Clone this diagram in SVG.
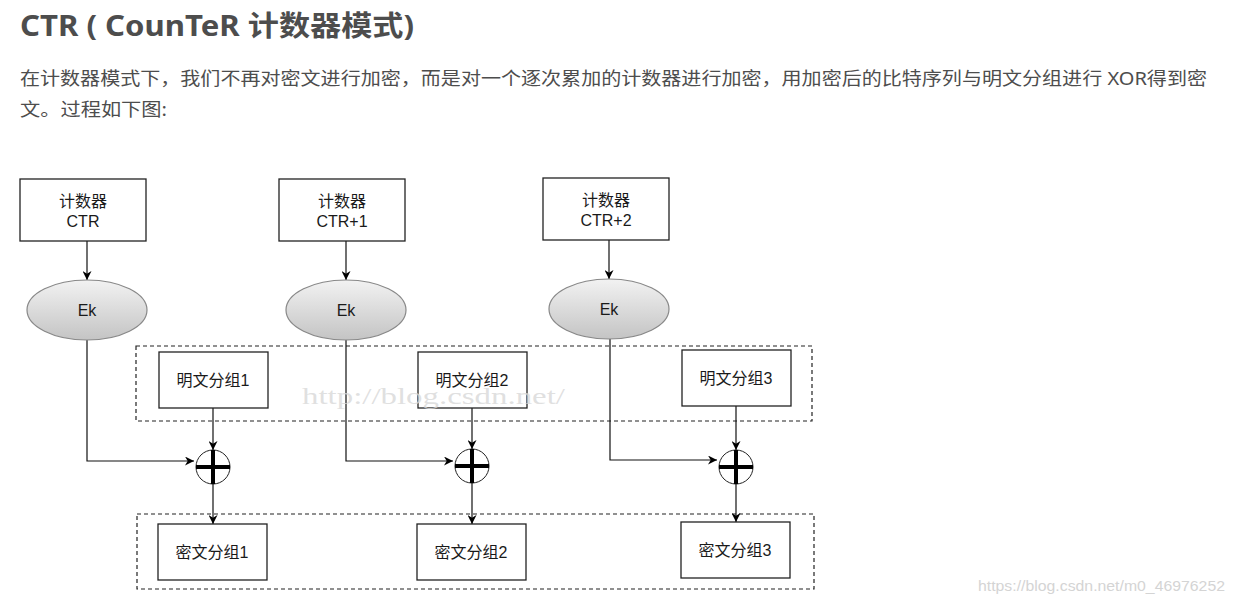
<svg xmlns="http://www.w3.org/2000/svg" width="1234" height="604" viewBox="0 0 1234 604">
<style>
.t{font-family:"Liberation Sans","Noto Sans CJK SC",sans-serif;font-size:16px;fill:#1a1a1a;text-anchor:middle}
.box{fill:#fff;stroke:#222;stroke-width:1.3}
.dash{fill:none;stroke:#222;stroke-width:1.2;stroke-dasharray:4 3}
.ell{fill:url(#g);stroke:#888;stroke-width:1.2}
.ln{fill:none;stroke:#111;stroke-width:1.2;marker-end:url(#ah)}
.xc{fill:#fff;stroke:#222;stroke-width:1}
.xp{stroke:#000;stroke-width:4}
.hd{font-family:"Noto Sans","Noto Sans CJK SC",sans-serif;fill:#4d4d4d}
</style>
<defs>
<linearGradient id="g" x1="0" y1="0" x2="0" y2="1"><stop offset="0" stop-color="#f2f2f2"/><stop offset="1" stop-color="#c4c4c4"/></linearGradient>
<marker id="ah" viewBox="0 0 10 10" refX="10" refY="5" markerWidth="9" markerHeight="9" markerUnits="userSpaceOnUse" orient="auto"><path d="M0,0 L10,5 L0,10 L3,5 z" fill="#000"/></marker>
</defs>
<rect width="1234" height="604" fill="#fff"/>
<text class="hd" x="20" y="36" font-size="28" font-weight="bold" textLength="394" lengthAdjust="spacingAndGlyphs">CTR ( CounTeR 计数器模式)</text>
<text class="hd" x="20" y="85" font-size="18" textLength="1187" lengthAdjust="spacingAndGlyphs">在计数器模式下，我们不再对密文进行加密，而是对一个逐次累加的计数器进行加密，用加密后的比特序列与明文分组进行 XOR得到密</text>
<text class="hd" x="20" y="116" font-size="18" textLength="147" lengthAdjust="spacingAndGlyphs">文。过程如下图:</text>
<g id="groups">
<rect class="dash" x="136" y="346" width="676" height="75"/>
<rect class="dash" x="137" y="514" width="677" height="75"/>
</g>
<g id="connectors">
<line class="ln" x1="87" y1="241" x2="87" y2="280"/>
<line class="ln" x1="346" y1="241" x2="346" y2="280"/>
<line class="ln" x1="609" y1="240" x2="609" y2="279"/>
<path class="ln" d="M87,340 V461 H194"/>
<path class="ln" d="M346,340 V461 H453"/>
<path class="ln" d="M610,339 V460 H717"/>
<line class="ln" x1="213" y1="408" x2="213" y2="450"/>
<line class="ln" x1="472" y1="408" x2="472" y2="449"/>
<line class="ln" x1="736" y1="406" x2="736" y2="450"/>
<line class="ln" x1="213" y1="484" x2="213" y2="524"/>
<line class="ln" x1="472" y1="483" x2="472" y2="524"/>
<line class="ln" x1="736" y1="484" x2="736" y2="522"/>
</g>
<g id="ctr0"><rect class="box" x="20" y="179" width="126" height="62"/><text class="t" x="83" y="207">计数器</text><text class="t" x="83" y="227">CTR</text></g>
<g id="ctr1"><rect class="box" x="279" y="179" width="126" height="62"/><text class="t" x="342" y="207">计数器</text><text class="t" x="342" y="227">CTR+1</text></g>
<g id="ctr2"><rect class="box" x="543" y="178" width="126" height="62"/><text class="t" x="606" y="206">计数器</text><text class="t" x="606" y="226">CTR+2</text></g>
<g id="ek0"><ellipse class="ell" cx="87" cy="310" rx="60" ry="30"/><text class="t" x="87" y="316">Ek</text></g>
<g id="ek1"><ellipse class="ell" cx="346" cy="310" rx="60" ry="30"/><text class="t" x="346" y="316">Ek</text></g>
<g id="ek2"><ellipse class="ell" cx="609" cy="309" rx="60" ry="30"/><text class="t" x="609" y="315">Ek</text></g>
<g id="p1"><rect class="box" x="159" y="352" width="109" height="56"/><text class="t" x="213" y="386">明文分组1</text></g>
<g id="p2"><rect class="box" x="418" y="352" width="109" height="56"/><text class="t" x="472" y="386">明文分组2</text></g>
<g id="p3"><rect class="box" x="682" y="350" width="109" height="56"/><text class="t" x="736" y="384">明文分组3</text></g>
<g id="x1"><circle class="xc" cx="213" cy="467" r="17"/><path class="xp" d="M196,467 H230 M213,450 V484"/></g>
<g id="x2"><circle class="xc" cx="472" cy="466" r="17"/><path class="xp" d="M455,466 H489 M472,449 V483"/></g>
<g id="x3"><circle class="xc" cx="736" cy="467" r="17"/><path class="xp" d="M719,467 H753 M736,450 V484"/></g>
<g id="c1"><rect class="box" x="158" y="524" width="109" height="56"/><text class="t" x="212" y="558">密文分组1</text></g>
<g id="c2"><rect class="box" x="417" y="524" width="109" height="56"/><text class="t" x="471" y="558">密文分组2</text></g>
<g id="c3"><rect class="box" x="681" y="522" width="109" height="56"/><text class="t" x="735" y="556">密文分组3</text></g>
<text x="302" y="404" font-family="Liberation Serif,serif" font-size="23" fill="#d8d8d8" fill-opacity="0.8" textLength="263" lengthAdjust="spacingAndGlyphs">http://blog.csdn.net/</text>
<text x="978" y="591" font-family="Liberation Sans,sans-serif" font-size="15" fill="#d4d4d4" textLength="247" lengthAdjust="spacingAndGlyphs">https://blog.csdn.net/m0_46976252</text>
</svg>
